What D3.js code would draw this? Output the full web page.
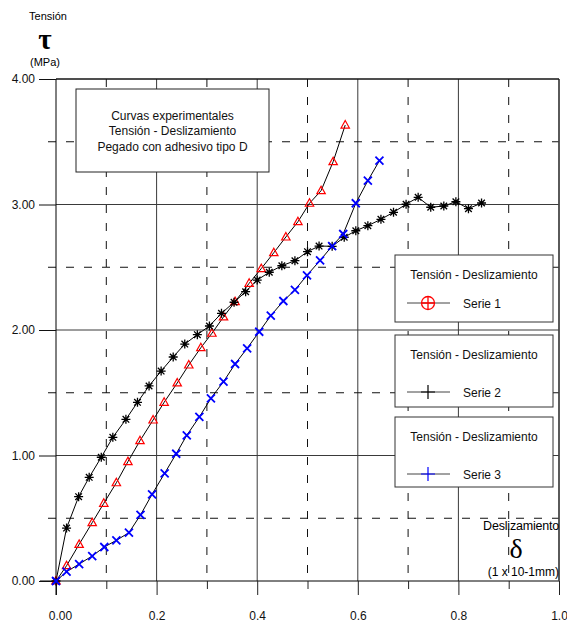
<!DOCTYPE html>
<html>
<head>
<meta charset="utf-8">
<script src="https://cdn.jsdelivr.net/npm/d3@7"></script>
<style>
  html, body { margin: 0; padding: 0; background: #fff; }
  svg { display: block; font-family: "Liberation Sans", Arial, sans-serif; }
</style>
</head>
<body>
<svg id="chart" width="567" height="622"></svg>
<script>
// Slip (x 10^-1 mm) and shear stress (MPa) for each test series
const serie1X = [0,0.021,0.046,0.072,0.095,0.120,0.143,0.167,0.193,0.215,0.241,0.264,0.288,0.310,0.333,0.356,0.384,0.408,0.433,0.457,0.481,0.504,0.527,0.551,0.575];
const serie1Y = [0,0.122,0.292,0.465,0.619,0.783,0.951,1.118,1.283,1.424,1.578,1.721,1.859,1.974,2.104,2.226,2.372,2.489,2.616,2.741,2.863,3.010,3.110,3.341,3.633];

const serie2X = [0,0.021,0.045,0.066,0.090,0.113,0.139,0.162,0.185,0.209,0.233,0.256,0.281,0.305,0.329,0.354,0.377,0.400,0.424,0.449,0.475,0.500,0.523,0.549,0.573,0.596,0.620,0.646,0.671,0.696,0.720,0.745,0.771,0.795,0.820,0.846];
const serie2Y = [0,0.422,0.672,0.826,0.986,1.145,1.288,1.424,1.554,1.673,1.785,1.888,1.963,2.032,2.133,2.221,2.305,2.398,2.460,2.512,2.552,2.624,2.669,2.667,2.739,2.791,2.831,2.882,2.938,3.002,3.057,2.978,2.988,3.022,2.967,3.012];

const serie3X = [0,0.021,0.046,0.072,0.096,0.120,0.145,0.168,0.191,0.216,0.239,0.260,0.285,0.308,0.333,0.356,0.380,0.404,0.427,0.452,0.475,0.499,0.525,0.549,0.571,0.596,0.620,0.643];
const serie3Y = [0,0.074,0.135,0.199,0.271,0.324,0.385,0.526,0.691,0.858,1.014,1.161,1.307,1.456,1.588,1.729,1.854,1.986,2.114,2.231,2.319,2.436,2.554,2.669,2.765,3.010,3.190,3.349];

const xMajorTicks = [0, 0.2, 0.4, 0.6, 0.8, 1.0];
const xTickLabels = ["0.00", "0.2", "0.4", "0.6", "0.8", "1.0"];
const xMinorTicks = [0.1, 0.3, 0.5, 0.7, 0.9];
const yMajorTicks = [0, 1, 2, 3, 4];
const yTickLabels = ["0.00", "1.00", "2.00", "3.00", "4.00"];
const yMinorTicks = [0.5, 1.5, 2.5, 3.5];

const noteLines = ["Curvas experimentales", "Tensión - Deslizamiento", "Pegado con adhesivo tipo D"];
const legendTitle = "Tensión - Deslizamiento";
const legendNames = ["Serie 1", "Serie 2", "Serie 3"];

const svg = d3.select("#chart");
const x = d3.scaleLinear().domain([0, 1]).range([56, 559]);
const y = d3.scaleLinear().domain([0, 4]).range([581, 79]);

const gridColor = "#3a3a3a";

// Grid: solid on major values, dashed on half steps
const grid = svg.append("g");
grid.selectAll(".vmaj").data(xMajorTicks.filter(d => d > 0)).join("line")
  .attr("x1", d => x(d)).attr("x2", d => x(d))
  .attr("y1", y(4)).attr("y2", y(0))
  .attr("stroke", gridColor).attr("stroke-width", 1);
grid.selectAll(".vmin").data(xMinorTicks).join("line")
  .attr("x1", d => x(d)).attr("x2", d => x(d))
  .attr("y1", y(4)).attr("y2", y(0))
  .attr("stroke", "#111").attr("stroke-width", 1).attr("stroke-dasharray", "8,10");
grid.selectAll(".hmaj").data(yMajorTicks.filter(d => d > 0)).join("line")
  .attr("x1", x(0)).attr("x2", x(1))
  .attr("y1", d => y(d)).attr("y2", d => y(d))
  .attr("stroke", gridColor).attr("stroke-width", 1);
grid.selectAll(".hmin").data(yMinorTicks).join("line")
  .attr("x1", x(0) - 8).attr("x2", x(1))
  .attr("y1", d => y(d)).attr("y2", d => y(d))
  .attr("stroke", "#111").attr("stroke-width", 1).attr("stroke-dasharray", "8,10");

// Axes
const xAxis = svg.append("g").attr("transform", `translate(0,${y(0)})`)
  .call(d3.axisBottom(x).tickValues(xMajorTicks).tickSize(14).tickFormat((d, i) => xTickLabels[i]));
xAxis.select(".domain").attr("d", `M${x(0) - 16},0H${x(1)}`).attr("stroke", "#000");
xAxis.selectAll(".tick line").attr("stroke", "#222");
xAxis.selectAll(".tick text").attr("dy", 0).attr("y", 39)
  .attr("font-size", 12).attr("font-family", "Liberation Sans, Arial, sans-serif").attr("fill", "#111");
xAxis.selectAll(".tick").filter(d => d === 0).select("text").attr("x", 4);
svg.append("g").attr("transform", `translate(0,${y(0)})`)
  .call(d3.axisBottom(x).tickValues(xMinorTicks).tickSize(8).tickFormat(""))
  .call(g => g.select(".domain").remove())
  .selectAll(".tick line").attr("stroke", "#222");

const yAxis = svg.append("g").attr("transform", `translate(${x(0)},0)`)
  .call(d3.axisLeft(y).tickValues(yMajorTicks).tickSize(17).tickFormat((d, i) => yTickLabels[i]));
yAxis.select(".domain").attr("d", `M0,${y(0) + 14}V${y(4)}`).attr("stroke", "#000");
yAxis.selectAll(".tick line").attr("stroke", "#111");
yAxis.selectAll(".tick text").attr("x", -21)
  .attr("font-size", 12).attr("font-family", "Liberation Sans, Arial, sans-serif").attr("fill", "#111");

// Right and top frame
svg.append("line").attr("x1", x(1)).attr("x2", x(1)).attr("y1", y(4)).attr("y2", y(0))
  .attr("stroke", "#444").attr("stroke-width", 1.5);
svg.append("line").attr("x1", x(0)).attr("x2", x(1)).attr("y1", y(4)).attr("y2", y(4))
  .attr("stroke", "#000").attr("stroke-width", 1);

// Axis titles
svg.append("text").attr("x", 48).attr("y", 20).attr("text-anchor", "middle")
  .attr("font-size", 11).text("Tensión");
svg.append("text").attr("x", 45).attr("y", 48.5).attr("text-anchor", "middle")
  .attr("font-family", "Liberation Serif, serif").attr("font-weight", "bold")
  .attr("font-size", 29).text("τ");
svg.append("text").attr("x", 45).attr("y", 66).attr("text-anchor", "middle")
  .attr("font-size", 11).text("(MPa)");

svg.append("text").attr("x", 559).attr("y", 530).attr("text-anchor", "end")
  .attr("font-size", 12.5).attr("letter-spacing", "-0.2").text("Deslizamiento");
svg.append("text").attr("x", 516).attr("y", 558).attr("text-anchor", "middle")
  .attr("font-family", "Liberation Serif, serif").attr("font-size", 28).text("δ");
svg.append("text").attr("x", 559).attr("y", 576).attr("text-anchor", "end")
  .attr("font-size", 12).text("(1 x 10-1mm)");

// Note box
const note = svg.append("g");
note.append("rect").attr("x", 76).attr("y", 89).attr("width", 193).attr("height", 83)
  .attr("fill", "#fff").attr("stroke", "#222").attr("stroke-width", 1);
note.selectAll("text").data(noteLines).join("text")
  .attr("x", 172.5).attr("y", (d, i) => 120 + i * 15.3)
  .attr("text-anchor", "middle").attr("font-size", 12).attr("fill", "#111").text(d => d);

// Series
const line = d3.line().x(d => x(d[0])).y(d => y(d[1]));
const pts1 = serie1X.map((v, i) => [v, serie1Y[i]]);
const pts2 = serie2X.map((v, i) => [v, serie2Y[i]]);
const pts3 = serie3X.map((v, i) => [v, serie3Y[i]]);

[pts1, pts2, pts3].forEach(p => {
  svg.append("path").datum(p).attr("d", line)
    .attr("fill", "none").attr("stroke", "#000").attr("stroke-width", 1);
});

// Serie 1: open red triangles
svg.append("g").selectAll("path").data(pts1).join("path")
  .attr("transform", d => `translate(${x(d[0])},${y(d[1])})`)
  .attr("d", "M0,-4.5L4.2,3L-4.2,3Z")
  .attr("fill", "none").attr("stroke", "#ff0000").attr("stroke-width", 1.2);

// Serie 2: black asterisks
const star = svg.append("g").selectAll("g").data(pts2).join("g")
  .attr("transform", d => `translate(${x(d[0])},${y(d[1])})`);
star.append("path").attr("d", "M-4.5,0H4.5M0,-4.5V4.5M-3.3,-3.3L3.3,3.3M-3.3,3.3L3.3,-3.3")
  .attr("stroke", "#000").attr("stroke-width", 1.3);
star.append("circle").attr("r", 1.6).attr("fill", "#000");

// Serie 3: blue crosses
svg.append("g").selectAll("path").data(pts3).join("path")
  .attr("transform", d => `translate(${x(d[0])},${y(d[1])})`)
  .attr("d", "M-4,-4L4,4M-4,4L4,-4")
  .attr("stroke", "#0000ff").attr("stroke-width", 1.8);

// Legend boxes
const legendBoxes = [
  { top: 255, h: 67 },
  { top: 335, h: 72 },
  { top: 417, h: 70 }
];
legendBoxes.forEach((b, i) => {
  const g = svg.append("g");
  g.append("rect").attr("x", 395).attr("y", b.top).attr("width", 158).attr("height", b.h)
    .attr("fill", "#fff").attr("stroke", "#333").attr("stroke-width", 1);
  g.append("text").attr("x", 474).attr("y", b.top + 24).attr("text-anchor", "middle")
    .attr("font-size", 12).attr("fill", "#111").text(legendTitle);
  const sy = b.top + 48 + (i === 0 ? 0 : 9);
  g.append("line").attr("x1", 407).attr("x2", 450).attr("y1", sy).attr("y2", sy)
    .attr("stroke", "#444").attr("stroke-width", 1);
  g.append("text").attr("x", 463).attr("y", sy + 4.5).attr("font-size", 12)
    .attr("fill", "#111").text(legendNames[i]);
  if (i === 0) {
    g.append("circle").attr("cx", 428).attr("cy", sy).attr("r", 6.5)
      .attr("fill", "none").attr("stroke", "#ff0000").attr("stroke-width", 1.3);
    g.append("path").attr("d", `M421.5,${sy}H434.5M428,${sy - 6.5}V${sy + 6.5}`)
      .attr("stroke", "#ff0000").attr("stroke-width", 1.3);
  } else {
    const c = i === 1 ? "#000" : "#0000ff";
    g.append("path").attr("d", `M428,${sy - 7}V${sy + 7}M421,${sy}H435`)
      .attr("stroke", c).attr("stroke-width", 1.2);
  }
});
</script>
</body>
</html>
